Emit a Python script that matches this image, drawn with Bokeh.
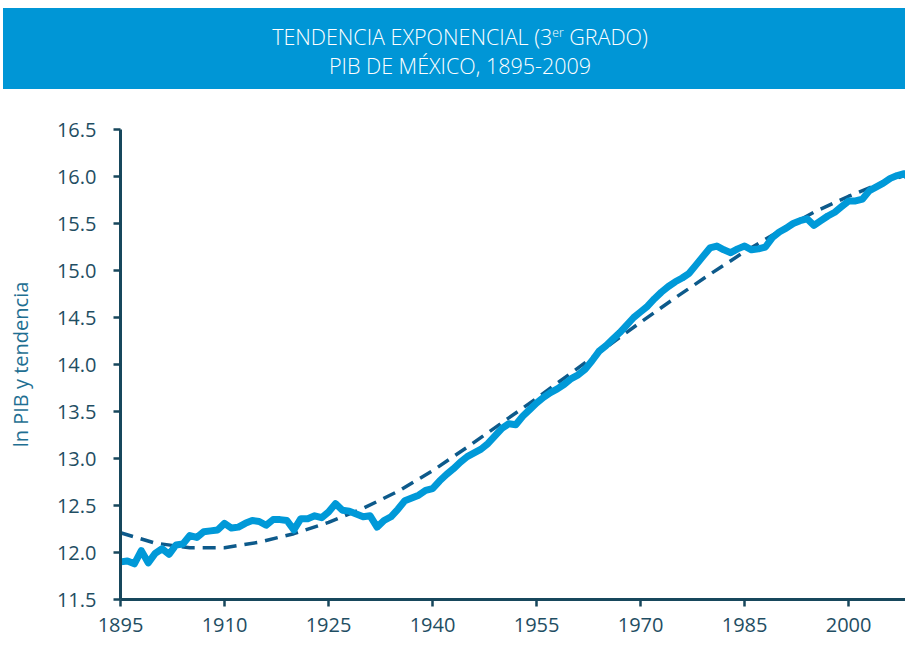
from bokeh.plotting import figure
from bokeh.models import Div, Range1d, FixedTicker, NumeralTickFormatter
from bokeh.layouts import column
from bokeh.embed import file_html
from bokeh.resources import INLINE

# ---- data ----
years = list(range(1895, 2010))
ln_pib = [
    11.90, 11.91, 11.88, 12.02, 11.89, 11.99, 12.04, 11.98, 12.08, 12.09,  # 1895-1904
    12.18, 12.16, 12.22, 12.23, 12.24, 12.31, 12.26, 12.27, 12.31, 12.34,  # 1905-1914
    12.33, 12.29, 12.35, 12.35, 12.34, 12.24, 12.36, 12.36, 12.39, 12.37,  # 1915-1924
    12.43, 12.52, 12.45, 12.44, 12.41, 12.38, 12.39, 12.27, 12.34, 12.38,  # 1925-1934
    12.46, 12.55, 12.58, 12.61, 12.66, 12.68, 12.76, 12.83, 12.89, 12.96,  # 1935-1944
    13.02, 13.06, 13.10, 13.16, 13.24, 13.32, 13.37, 13.36, 13.45, 13.52,  # 1945-1954
    13.59, 13.65, 13.70, 13.74, 13.79, 13.85, 13.89, 13.95, 14.04, 14.14,  # 1955-1964
    14.20, 14.27, 14.34, 14.42, 14.50, 14.56, 14.62, 14.70, 14.77, 14.83,  # 1965-1974
    14.88, 14.92, 14.97, 15.06, 15.15, 15.24, 15.26, 15.22, 15.19, 15.23,  # 1975-1984
    15.26, 15.22, 15.23, 15.25, 15.35, 15.41, 15.45, 15.50, 15.53, 15.55,  # 1985-1994
    15.48, 15.53, 15.58, 15.62, 15.68, 15.74, 15.74, 15.76, 15.85, 15.89,  # 1995-2004
    15.93, 15.98, 16.01, 16.03, 15.97,                                      # 2005-2009
]
trend_years = [1895, 1900, 1905, 1910, 1915, 1920, 1925, 1930, 1935, 1940, 1945, 1950,
               1955, 1960, 1965, 1970, 1975, 1980, 1985, 1990, 1995, 2000, 2005, 2009]
trend = [12.21, 12.10, 12.05, 12.05, 12.11, 12.20, 12.32, 12.47, 12.65, 12.87, 13.12, 13.38,
         13.64, 13.91, 14.18, 14.45, 14.71, 14.96, 15.20, 15.42, 15.62, 15.79, 15.94, 16.03]
x_ticks = [1895, 1910, 1925, 1940, 1955, 1970, 1985, 2000]
y_ticks = [11.5, 12.0, 12.5, 13.0, 13.5, 14.0, 14.5, 15.0, 15.5, 16.0, 16.5]

title_line1 = "TENDENCIA EXPONENCIAL (3"
title_sup = "er"
title_line1b = " GRADO)"
title_line2 = "PIB DE MÉXICO, 1895-2009"
y_label = "ln PIB y tendencia"

AXIS = "#17475c"
TXT = "#1f4e63"

header = Div(
    text=(
        '<div style="width:902px;box-sizing:border-box;color:#ffffff;padding-left:12px;'
        "text-align:center;font-family:'Open Sans';font-weight:300;font-size:21.5px;line-height:29px;"
        'padding-top:14px;">'
        f'{title_line1}<sup style="font-size:12px;line-height:0;vertical-align:8px;">{title_sup}</sup>'
        f'{title_line1b}<br>{title_line2}</div>'
    ),
    width=902, height=81, margin=(8, 0, 0, 3),
    styles={"background-color": "#0096d6"},
)

p = figure(
    frame_width=785, frame_height=470,
    min_border_left=120, min_border_right=0, min_border_top=40, min_border_bottom=45,
    x_range=Range1d(1895, 2008.2), y_range=Range1d(11.5, 16.5),
    output_backend="svg", toolbar_location=None,
)
p.outline_line_color = None
p.xgrid.visible = False
p.ygrid.visible = False
p.background_fill_color = "white"
p.border_fill_color = "white"

p.line(trend_years, trend, line_color="#0d5a8b", line_width=3.5, line_dash="13 8")
p.line(years, ln_pib, line_color="#0099d8", line_width=7, line_join="round", line_cap="round")

for ax in (p.xaxis[0], p.yaxis[0]):
    ax.axis_line_color = AXIS
    ax.axis_line_width = 3
    ax.major_tick_line_color = AXIS
    ax.major_tick_line_width = 2.5
    ax.major_tick_out = 7
    ax.major_tick_in = 0
    ax.minor_tick_line_color = None
    ax.major_label_text_color = TXT
    ax.major_label_text_font = "Open Sans"
    ax.major_label_text_font_size = "20px"

p.xaxis.ticker = FixedTicker(ticks=x_ticks)
p.xaxis.major_label_standoff = 11

p.yaxis.ticker = FixedTicker(ticks=y_ticks)
p.yaxis.formatter = NumeralTickFormatter(format="0.0")
p.yaxis.major_label_standoff = 17
p.yaxis.axis_label = y_label
p.yaxis.axis_label_text_font = "Open Sans"
p.yaxis.axis_label_text_font_size = "20px"
p.yaxis.axis_label_text_font_style = "normal"
p.yaxis.axis_label_text_color = "#1f6f92"
p.yaxis.axis_label_standoff = 20

layout = column(header, p, spacing=0)
open("out.html", "w").write(file_html(layout, INLINE))
